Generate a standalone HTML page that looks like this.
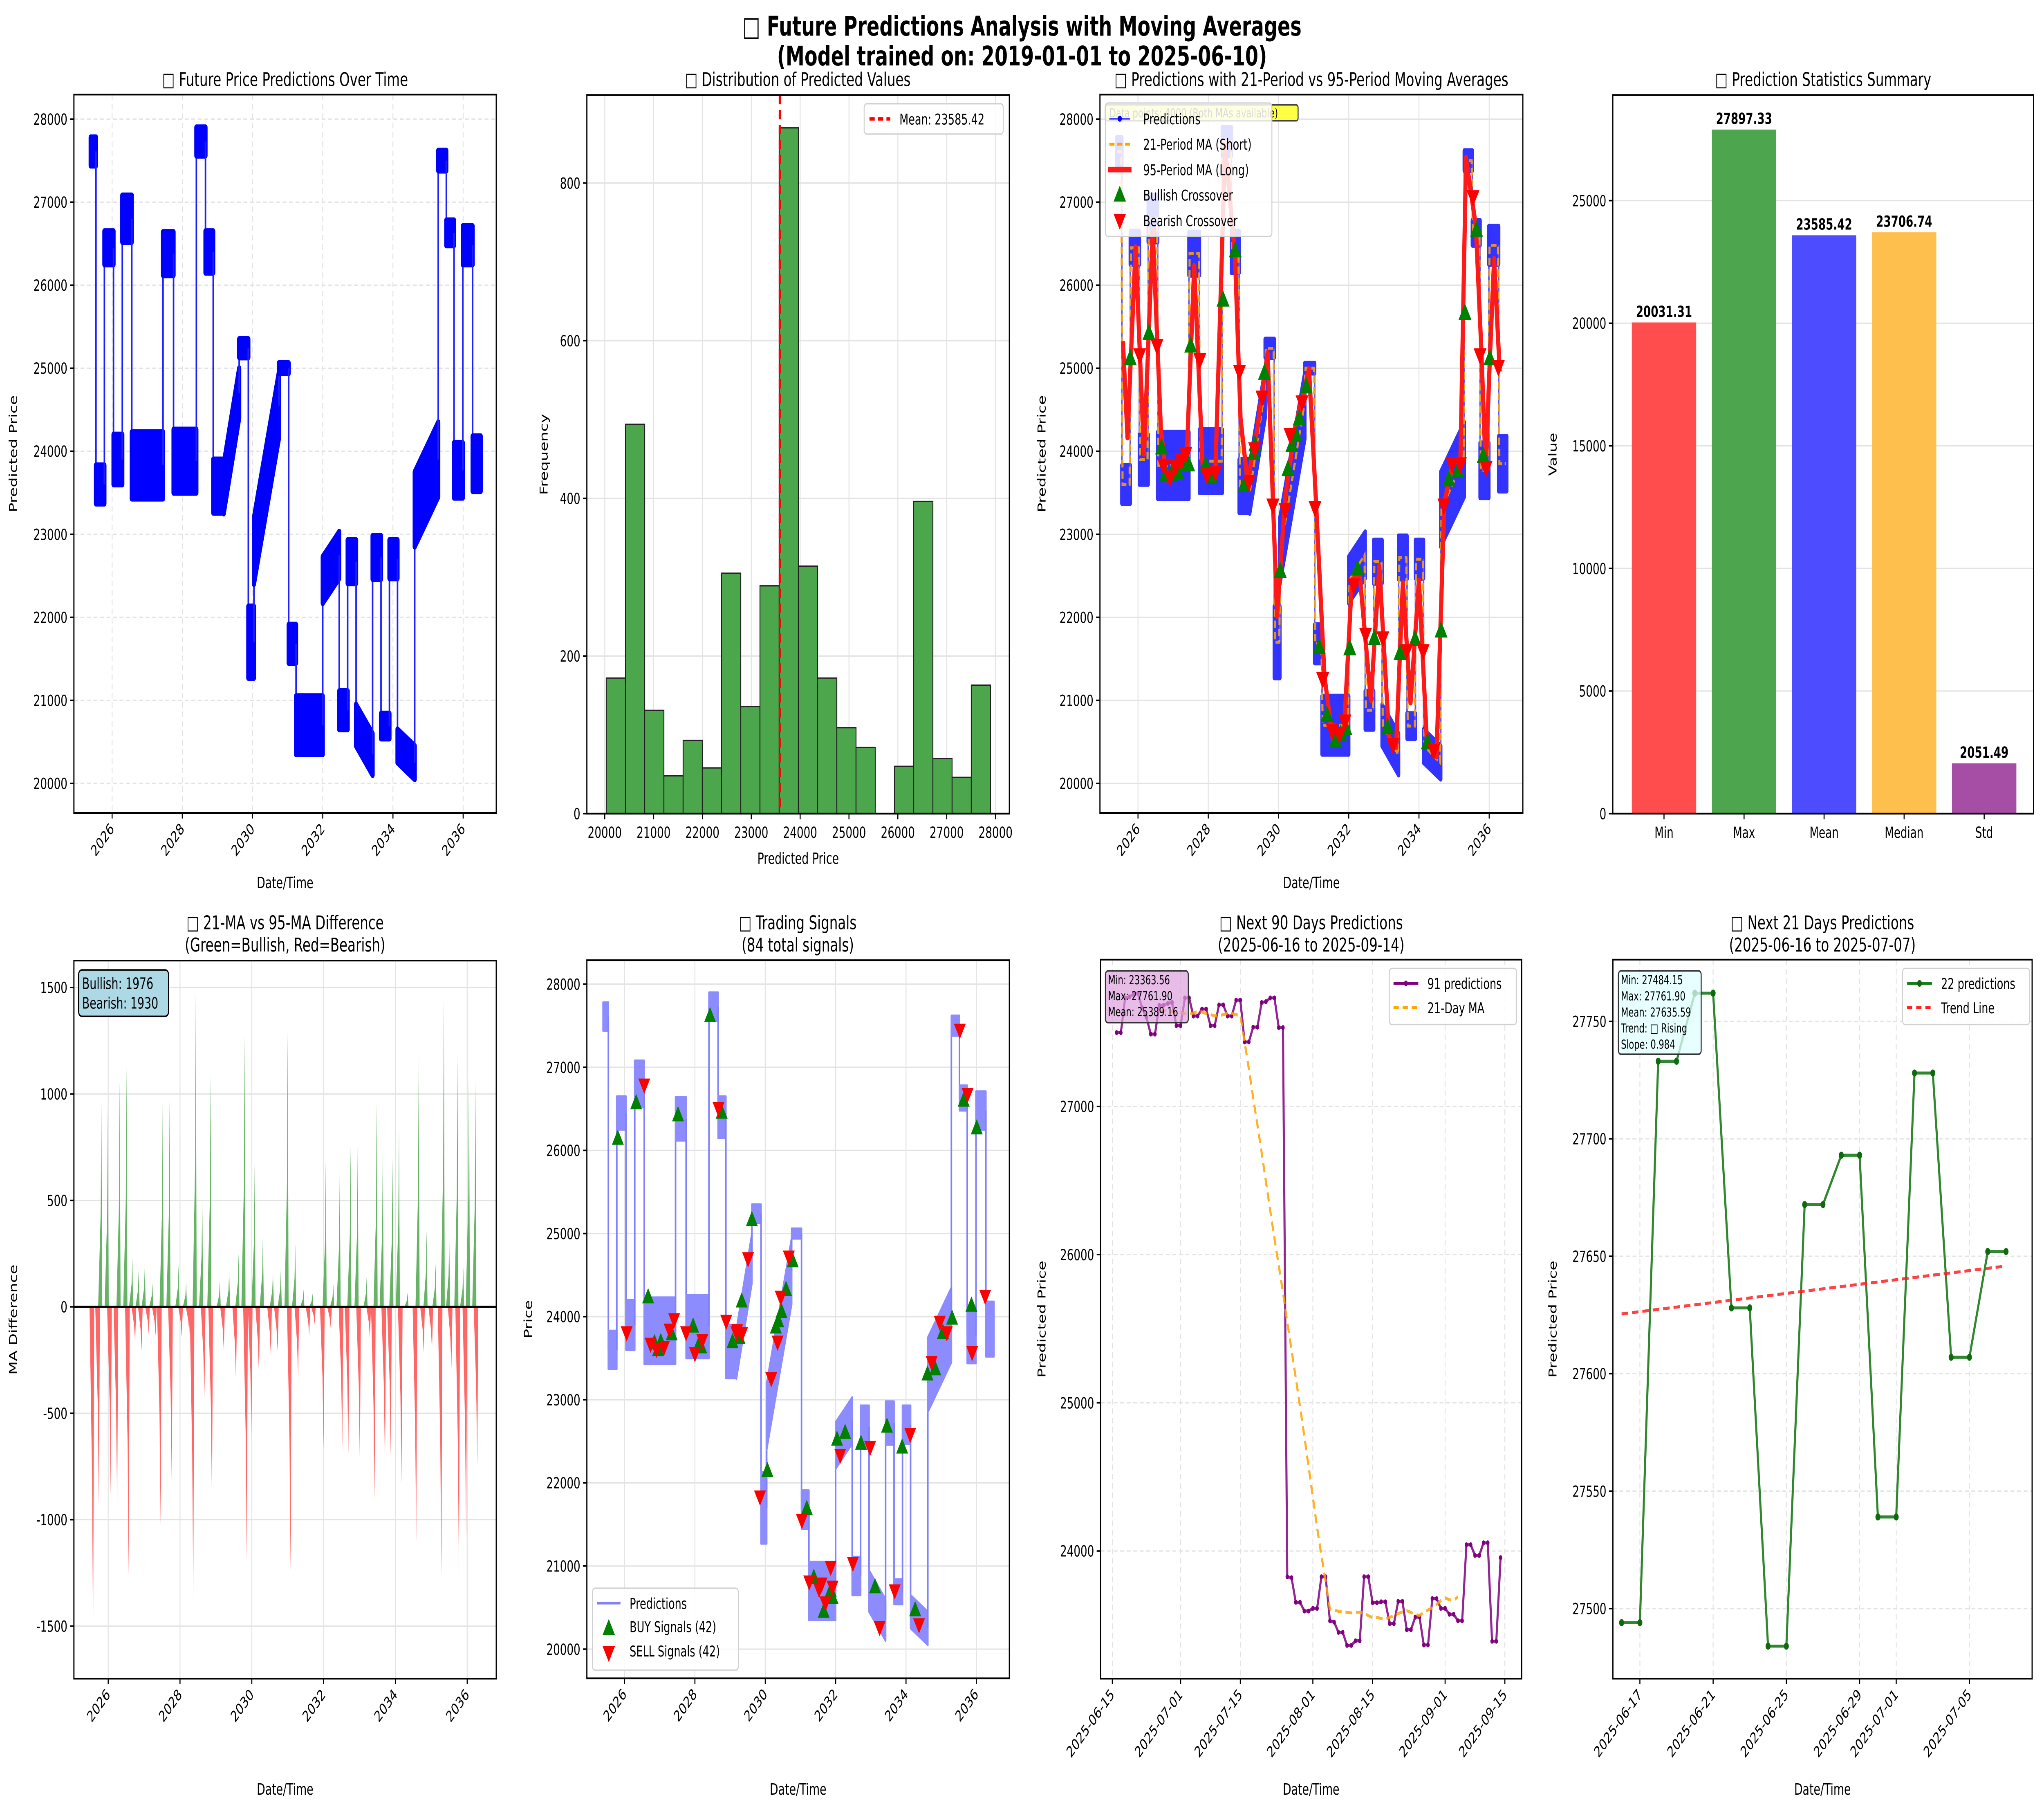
<!DOCTYPE html>
<html><head><meta charset="utf-8"><title>Future Predictions Analysis</title>
<style>
html,body{margin:0;padding:0;background:#fff;overflow:hidden;width:100vw;height:100vh;}
svg{display:block;font-family:"DejaVu Sans","Liberation Sans",sans-serif;width:100vw;height:100vh;}
</style></head>
<body>
<svg id="fig" xmlns="http://www.w3.org/2000/svg" viewBox="0 0 1568 967.6" preserveAspectRatio="none">
<rect x="0" y="0" width="1568" height="967.6" fill="#fff"/>
<text x="784" y="19" text-anchor="middle" font-size="14.5" font-weight="bold">□ Future Predictions Analysis with Moving Averages</text>
<text x="784" y="35" text-anchor="middle" font-size="14.5" font-weight="bold">(Model trained on: 2019-01-01 to 2025-06-10)</text>
</svg>
<script>
// ===== DATA =====
const regStart=[2025.39,2025.54,2025.78,2026.04,2026.29,2026.56,2027.45,2027.75,2028.4,2028.66,2028.88,2029.18,2029.62,2029.88,2030.04,2030.75,2031.03,2031.24,2032.0,2032.47,2032.71,2032.95,2033.42,2033.66,2033.9,2034.13,2034.62,2035.29,2035.52,2035.74,2035.99,2036.27];
const regEnd=[2025.54,2025.78,2026.04,2026.29,2026.56,2027.45,2027.75,2028.4,2028.66,2028.88,2029.18,2029.62,2029.88,2030.04,2030.75,2031.03,2031.24,2032.0,2032.47,2032.71,2032.95,2033.42,2033.66,2033.9,2034.13,2034.62,2035.29,2035.52,2035.74,2035.99,2036.27,2036.5];
const regFrom=[27610,23600,26450,23900,26800,23830,26380,23880,27730,26400,23580,23550,25240,21700,22800,25000,21680,20700,22450,20880,22670,20700,22720,20690,22700,20450,23300,27500,26630,23770,26480,23850];
const regTo=[27610,23600,26450,23900,26800,23830,26380,23880,27730,26400,23580,24700,25240,21700,24550,25000,21680,20700,22750,20880,22670,20350,22720,20690,22700,20250,23900,27500,26630,23770,26480,23850];
const regSpread=[170,230,200,300,280,400,260,380,170,250,320,300,110,430,400,60,230,350,280,230,260,250,260,150,230,200,450,120,150,330,230,330];

const histCounts=[172,494,131,48,93,58,305,136,289,870,314,172,109,84,0,60,396,70,46,163];
const histMin=20031.31, histMax=27897.33;
const meanValue=23585.42;

const statNames=['Min','Max','Mean','Median','Std'];
const statValues=[20031.31,27897.33,23585.42,23706.74,2051.49];
const statColors=['#ff4d4d','#4da64d','#4d4dff','#ffbf4d','#a64da6'];

const longMaYears=[2025.57,2025.7,2025.93,2026.17,2026.42,2026.65,2026.81,2027.16,2027.39,2027.6,2027.84,2028.2,2028.48,2028.76,2028.92,2029.12,2029.4,2029.69,2029.96,2030.19,2030.47,2030.87,2031.07,2031.31,2031.55,2031.87,2032.09,2032.31,2032.63,2032.87,2033.15,2033.35,2033.54,2033.76,2034.0,2034.22,2034.5,2034.72,2034.98,2035.18,2035.34,2035.62,2035.78,2035.9,2036.02,2036.14,2036.3];
const longMaValues=[25326,24167,26457,23970,26655,24280,23658,23828,23970,26231,23828,23715,27672,26372,24393,23630,24280,25185,22019,23433,24280,24987,23376,21284,20521,20663,22443,22528,21002,22612,20549,20436,22414,20974,22443,20549,20323,23376,23885,23885,27531,26711,25185,23772,25128,26315,24959];

const bullYears=[2025.78,2026.31,2026.67,2026.78,2026.95,2027.14,2027.31,2027.44,2027.5,2027.92,2028.09,2028.42,2028.77,2029.02,2029.3,2029.33,2029.6,2030.05,2030.27,2030.38,2030.5,2030.59,2030.79,2031.16,2031.38,2031.62,2031.77,2031.92,2032.03,2032.25,2032.73,2033.11,2033.46,2033.89,2034.24,2034.63,2034.85,2035.11,2035.31,2035.64,2035.83,2036.02];
const bullValues=[25117,25422,24043,23715,23726,23738,23828,23840,25270,23828,23698,25824,26417,23591,23981,24083,24942,22556,23783,24071,24196,24393,24778,21641,20821,20521,20595,20663,21624,22584,21748,20674,21567,21737,20493,21838,23659,23760,25665,26666,23941,25117];
const bearYears=[2026.05,2026.54,2026.73,2026.91,2027.07,2027.23,2027.36,2027.76,2027.96,2028.2,2028.89,2029.16,2029.32,2029.53,2029.84,2030.19,2030.33,2030.67,2031.04,2031.26,2031.53,2031.73,2031.89,2032.14,2032.48,2032.97,2033.26,2033.65,2034.12,2034.42,2034.71,2034.94,2035.18,2035.54,2035.74,2035.91,2036.26];
const bearValues=[25157,25270,23828,23687,23817,23885,23970,25100,23715,23743,24959,23630,24026,24648,23348,23291,24196,24591,23319,21256,20634,20595,20747,22387,21793,21748,20465,21595,21595,20391,23348,23845,23845,27062,25157,23800,25015];

const bullCount=1976, bearCount=1930;
const diffPosYears=[2025.81,2025.99,2026.32,2026.51,2026.67,2026.85,2027.02,2027.23,2027.52,2027.71,2027.96,2028.17,2028.44,2028.62,2028.85,2029.11,2029.37,2029.63,2029.8,2030.08,2030.31,2030.59,2030.81,2031.0,2031.21,2031.44,2031.69,2032.06,2032.27,2032.45,2032.75,2032.95,2033.2,2033.48,2033.65,2033.92,2034.1,2034.34,2034.65,2034.87,2035.12,2035.35,2035.5,2035.73,2035.89,2036.05,2036.23];
const diffPosValues=[977,940,1064,1128,233,177,198,111,1014,971,198,116,1472,519,1091,120,170,251,1282,676,347,168,181,1293,294,81,63,683,105,639,752,759,142,966,759,700,846,68,1189,360,203,1457,323,1184,185,1173,1058];
const diffNegYears=[2025.58,2025.74,2026.07,2026.25,2026.57,2026.75,2026.93,2027.13,2027.32,2027.46,2027.77,2028.05,2028.26,2028.37,2028.68,2028.89,2029.22,2029.56,2029.86,2029.99,2030.2,2030.53,2030.72,2031.08,2031.29,2031.6,2031.75,2032.0,2032.2,2032.52,2032.69,2033.01,2033.29,2033.42,2033.71,2033.87,2034.17,2034.58,2034.79,2035.02,2035.28,2035.56,2035.77,2035.97,2036.28];
const diffNegValues=[-1597,-931,-888,-953,-1265,-168,-207,-129,-135,-1023,-833,-142,-124,-1378,-425,-931,-207,-353,-1200,-604,-327,-233,-212,-1241,-332,-135,-81,-670,-103,-665,-691,-746,-146,-909,-763,-702,-833,-1106,-216,-207,-1270,-288,-1285,-1091,-752];

const buyYears=[2025.81,2026.33,2026.67,2026.85,2027.03,2027.34,2027.52,2027.95,2028.13,2028.18,2028.43,2028.76,2029.07,2029.27,2029.33,2029.62,2030.06,2030.3,2030.37,2030.46,2030.59,2030.78,2031.18,2031.38,2031.66,2031.86,2031.91,2032.04,2032.27,2032.72,2033.12,2033.46,2033.89,2034.26,2034.61,2034.83,2035.05,2035.31,2035.64,2035.86,2036.01,2026.95];
const buyValues=[26143,26570,24236,23684,23696,23790,26425,23884,23684,23634,27617,26457,23696,23746,24186,25164,22147,23872,23947,24060,24324,24669,21689,20861,20453,20704,20622,22523,22605,22473,20748,22680,22429,20471,23307,23370,23809,23979,26601,24135,26268,23600];
const sellYears=[2026.06,2026.56,2026.74,2026.91,2027.12,2027.28,2027.41,2027.75,2028.0,2028.21,2028.67,2028.89,2029.18,2029.2,2029.34,2029.51,2029.85,2030.17,2030.35,2030.44,2030.67,2031.04,2031.25,2031.53,2031.6,2031.71,2031.86,2031.91,2032.13,2032.49,2032.98,2033.25,2033.68,2034.12,2034.37,2034.73,2034.96,2035.16,2035.53,2035.75,2035.88,2036.25];
const sellValues=[23809,26789,23671,23609,23634,23841,23966,23809,23558,23715,26507,23947,23809,23834,23797,24700,21833,23257,23696,24236,24719,21551,20811,20723,20786,20559,20986,20748,22335,21036,22429,20264,20704,22586,20296,23452,23935,23809,27448,26676,23571,24249];

const next90Values=[27498,27498,27732,27739,27757,27762,27664,27601,27488,27488,27682,27682,27695,27701,27545,27545,27732,27732,27610,27610,27657,27657,27545,27545,27685,27685,27610,27610,27717,27717,27435,27435,27535,27535,27701,27707,27732,27732,27532,27532,23826,23820,23654,23654,23595,23595,23613,23613,23826,23826,23529,23520,23451,23451,23363,23363,23394,23394,23826,23826,23651,23651,23657,23657,23510,23510,23660,23660,23469,23469,23554,23554,23366,23366,23679,23679,23613,23613,23573,23573,23529,23529,24042,24042,23970,23970,24055,24055,23391,23391,23955];
const next90Ticks=['2025-06-15','2025-07-01','2025-07-15','2025-08-01','2025-08-15','2025-09-01','2025-09-15'];
const next90TickDays=[0,16,30,47,61,78,92];
const next90Stats=['Min: 23363.56','Max: 27761.90','Mean: 25389.16'];

const next21Values=[27494,27494,27733,27733,27762,27762,27628,27628,27484,27484,27672,27672,27693,27693,27539,27539,27728,27728,27607,27607,27652,27652];
const next21Ticks=['2025-06-17','2025-06-21','2025-06-25','2025-06-29','2025-07-01','2025-07-05'];
const next21TickDays=[1,5,9,13,15,19];
const next21Stats=['Min: 27484.15','Max: 27761.90','Mean: 27635.59','Trend: □ Rising','Slope: 0.984'];

const yearTicks=[2026,2028,2030,2032,2034,2036];
const priceTicks=[20000,21000,22000,23000,24000,25000,26000,27000,28000];

// ===== HELPERS =====
const svg=document.getElementById('fig');
const NS=svg.namespaceURI;
function mk(tag,attrs,parent){const e=document.createElementNS(NS,tag);for(const k in attrs)e.setAttribute(k,attrs[k]);(parent||svg).appendChild(e);return e;}
function lin(d0,d1,r0,r1){return v=>r0+(v-d0)*(r1-r0)/(d1-d0);}
function txt(x,y,s,attrs){const t=mk('text',Object.assign({x:x,y:y,'font-size':8.2},attrs||{}));t.textContent=s;return t;}

function frame(b,name){
  const r=mk('rect',{x:b[0],y:b[1],width:b[2]-b[0],height:b[3]-b[1],fill:'none',stroke:'#000','stroke-width':0.9});
  
  
}
function gridX(b,xs,vals,dash,name){
  vals.forEach(v=>{const x=xs(v);const l=mk('line',{x1:x,x2:x,y1:b[1],y2:b[3],stroke:'#e3e3e3','stroke-width':0.7,'stroke-dasharray':dash?'3 2':'none'});
  
  });
}
function gridY(b,ys,vals,dash,name){
  vals.forEach(v=>{const y=ys(v);const l=mk('line',{x1:b[0],x2:b[2],y1:y,y2:y,stroke:'#e3e3e3','stroke-width':0.7,'stroke-dasharray':dash?'3 2':'none'});
  
  });
}
function yTicks(b,ys,vals,labels,name){
  vals.forEach((v,i)=>{const y=ys(v);
    const l=mk('line',{x1:b[0]-3,x2:b[0],y1:y,y2:y,stroke:'#000','stroke-width':0.8});
    
    
    const t=txt(b[0]-5,y+3,labels[i],{'text-anchor':'end'});
    
    });
}
function xTicks(b,xs,vals,labels,rot,name){
  vals.forEach((v,i)=>{const x=xs(v);
    const l=mk('line',{x1:x,x2:x,y1:b[3],y2:b[3]+3,stroke:'#000','stroke-width':0.8});
    
    
    let t;
    if(rot){t=txt(x+2,b[3]+9,labels[i],{'text-anchor':'end',transform:'rotate(-45 '+(x+2)+' '+(b[3]+9)+')'});}
    else{t=txt(x,b[3]+13,labels[i],{'text-anchor':'middle'});}
    
    });
}
function titles(cx,y,lines,name){
  lines.forEach((s,i)=>{const t=txt(cx,y+i*12,s,{'text-anchor':'middle','font-size':10.2});
    
    });
}
function axisLabels(b,xl,xly,yl,ylx,name){
  const t=txt((b[0]+b[2])/2,xly,xl,{'text-anchor':'middle','font-size':8.4});
  
  
  const cy=(b[1]+b[3])/2;
  const u=txt(ylx,cy,yl,{'text-anchor':'middle','font-size':8.4,transform:'rotate(-90 '+ylx+' '+cy+')'});
  
  
}
function triUp(x,y,s){return 'M'+x+' '+(y-s)+' L'+(x+s*0.95)+' '+(y+s*0.7)+' L'+(x-s*0.95)+' '+(y+s*0.7)+' Z';}
function triDown(x,y,s){return 'M'+x+' '+(y+s)+' L'+(x+s*0.95)+' '+(y-s*0.7)+' L'+(x-s*0.95)+' '+(y-s*0.7)+' Z';}
function drawRegimes(xs,ys,fill,stroke,sw,op,name){
  const g=mk('g',{opacity:op});
  
  
  for(let i=0;i<regStart.length;i++){
    if(i>0){const c=mk('line',{x1:xs(regStart[i]),x2:xs(regStart[i]),y1:ys(regTo[i-1]),y2:ys(regFrom[i]),stroke:stroke,'stroke-width':1.2},g);
      
      }
    const p=[[regStart[i],regFrom[i]+regSpread[i]],[regEnd[i],regTo[i]+regSpread[i]],[regEnd[i],regTo[i]-regSpread[i]],[regStart[i],regFrom[i]-regSpread[i]]].map(q=>xs(q[0]).toFixed(2)+','+ys(q[1]).toFixed(2)).join(' ');
    const poly=mk('polygon',{points:p,fill:fill,stroke:fill,'stroke-width':sw,'stroke-linejoin':'round'},g);
    
    
  }
}
function legendBox(x,y,w,h,name){
  const r=mk('rect',{x:x,y:y,width:w,height:h,rx:2,fill:'#fff','fill-opacity':0.85,stroke:'#d0d0d0','stroke-width':0.7});
  
  
}
const yearLabels=yearTicks.map(String);
const priceLabels=priceTicks.map(String);

// ===== PANEL 1 =====
(function(){
  const b=[56.7,50.6,380.7,434.8], X=lin(2026,2036,86.0,355.3), Y=lin(20000,28000,419.0,63.7), n='p1';
  gridX(b,X,yearTicks,true,n); gridY(b,Y,priceTicks,true,n);
  drawRegimes(X,Y,'#0000ff','#2020ff',3.2,1,'predictions-series');
  frame(b,n); yTicks(b,Y,priceTicks,priceLabels,n); xTicks(b,X,yearTicks,yearLabels,true,n);
  titles(218.7,46,['□ Future Price Predictions Over Time'],n);
  axisLabels(b,'Date/Time',475,'Predicted Price',13,n);
})();

// ===== PANEL 2 =====
(function(){
  const b=[450.2,50.8,774.3,435.2], X=lin(20000,28000,463.9,763.7), Y=lin(0,800,435.2,97.9), n='p2';
  const xt=[20000,21000,22000,23000,24000,25000,26000,27000,28000], yt=[0,200,400,600,800];
  gridX(b,X,xt,false,n); gridY(b,Y,yt,false,n);
  const w=(histMax-histMin)/histCounts.length;
  histCounts.forEach((c,i)=>{ if(c<=0) return;
    const x0=X(histMin+i*w), x1=X(histMin+(i+1)*w);
    const r=mk('rect',{x:x0,y:Y(c),width:x1-x0,height:Y(0)-Y(c),fill:'#4ca64c',stroke:'#222','stroke-width':0.7});
    
    });
  const ml=mk('line',{x1:X(meanValue),x2:X(meanValue),y1:b[1],y2:b[3],stroke:'#ff0000','stroke-width':1.8,'stroke-dasharray':'5 3'});
  
  
  frame(b,n); yTicks(b,Y,yt,yt.map(String),n); xTicks(b,X,xt,xt.map(String),false,n);
  legendBox(662.9,55.5,106.7,16.2,'hist-legend');
  const ll=mk('line',{x1:667,x2:683,y1:63.6,y2:63.6,stroke:'#ff0000','stroke-width':1.8,'stroke-dasharray':'4 2.5'});
  
  
  const lt=txt(690,66.6,'Mean: '+meanValue.toFixed(2),{'font-size':8});
  
  
  titles(612,46,['□ Distribution of Predicted Values'],n);
  axisLabels(b,'Predicted Price',462,'Frequency',420,n);
})();

// ===== PANEL 3 =====
(function(){
  const b=[843.8,50.6,1168.2,434.8], X=lin(2026,2036,873.0,1142.4), Y=lin(20000,28000,419.0,63.7), n='p3';
  gridX(b,X,yearTicks,false,n); gridY(b,Y,priceTicks,false,n);
  drawRegimes(X,Y,'#1010ff','#4040ff',2.6,0.85,'predictions-series');
  let d='';
  for(let i=0;i<regStart.length;i++){d+=(i?'L':'M')+X(regStart[i]+0.02).toFixed(2)+' '+Y(regFrom[i]).toFixed(2)+' L'+X(regEnd[i]-0.02).toFixed(2)+' '+Y(regTo[i]).toFixed(2)+' ';}
  const sm=mk('path',{d:d,fill:'none',stroke:'#ffa500','stroke-opacity':0.85,'stroke-width':1.6,'stroke-dasharray':'4 2'});
  
  
  const ld=longMaYears.map((yv,i)=>(i?'L':'M')+X(yv).toFixed(2)+' '+Y(longMaValues[i]).toFixed(2)).join(' ');
  const lm=mk('path',{d:ld,fill:'none',stroke:'#ff1a1a','stroke-width':3.2,'stroke-linejoin':'round'});
  
  
  bullYears.forEach((yv,i)=>{const p=mk('path',{d:triUp(X(yv),Y(bullValues[i]),5.2),fill:'#008000'});
    
    });
  bearYears.forEach((yv,i)=>{const p=mk('path',{d:triDown(X(yv),Y(bearValues[i]),5.2),fill:'#ff0000'});
    
    });
  frame(b,n); yTicks(b,Y,priceTicks,priceLabels,n); xTicks(b,X,yearTicks,yearLabels,true,n);
  const ab=mk('rect',{x:848,y:56.1,width:147.8,height:8.5,rx:1.5,fill:'#ffff44',stroke:'#444','stroke-width':0.8});
  
  
  const at=txt(851,62.8,'Data points: 4000 (Both MAs available)',{'font-size':6.6});
  
  
  legendBox(848,55.1,127.7,71.4,'ma-legend');
  const items=[['Predictions','pred'],['21-Period MA (Short)','short'],['95-Period MA (Long)','long'],['Bullish Crossover','bull'],['Bearish Crossover','bear']];
  items.forEach((it,i)=>{const y=63.5+i*13.6;let s;
    if(it[1]==='pred'){s=mk('line',{x1:851,x2:867,y1:y,y2:y,stroke:'#4040ff','stroke-width':1});mk('circle',{cx:859,cy:y,r:1.6,fill:'#0000ff'});}
    else if(it[1]==='short'){s=mk('line',{x1:851,x2:867,y1:y,y2:y,stroke:'#ffa500','stroke-width':1.6,'stroke-dasharray':'4 2'});}
    else if(it[1]==='long'){s=mk('line',{x1:850,x2:868,y1:y,y2:y,stroke:'#ff1a1a','stroke-width':3});}
    else if(it[1]==='bull'){s=mk('path',{d:triUp(859,y,5),fill:'#008000'});}
    else {s=mk('path',{d:triDown(859,y,5),fill:'#ff0000'});}
    
    
    const t=txt(877,y+3,it[0],{'font-size':8});
    
    });
  titles(1006,46,['□ Predictions with 21-Period vs 95-Period Moving Averages'],n);
  axisLabels(b,'Date/Time',475,'Predicted Price',802,n);
})();

// ===== PANEL 4 =====
(function(){
  const b=[1237.2,50.8,1560,435.2], Y=lin(0,25000,435.2,107.3), n='p4';
  const yt=[0,5000,10000,15000,20000,25000];
  gridY(b,Y,yt,false,n);
  statValues.forEach((v,i)=>{const cx=1276.5+i*61.4;
    const r=mk('rect',{x:cx-24.7,y:Y(v),width:49.4,height:Y(0)-Y(v),fill:statColors[i]});
    
    
    const t=txt(cx,Y(v)-3,v.toFixed(2),{'text-anchor':'middle','font-weight':'bold','font-size':8.2});
    
    
    const tk=mk('line',{x1:cx,x2:cx,y1:b[3],y2:b[3]+3,stroke:'#000','stroke-width':0.8});
    
    
    const l=txt(cx,b[3]+13,statNames[i],{'text-anchor':'middle'});
    
    });
  frame(b,n); yTicks(b,Y,yt,yt.map(String),n);
  titles(1398.6,46,['□ Prediction Statistics Summary'],n);
  axisLabels(b,'',460,'Value',1194,n);
})();

// ===== PANEL 5 =====
(function(){
  const b=[56.7,513.8,380.7,897.9], X=lin(2026,2036,83.0,358.4), Y=lin(-1500,1500,869.8,528.2), n='p5';
  const yt=[-1500,-1000,-500,0,500,1000,1500];
  gridX(b,X,yearTicks,false,n); gridY(b,Y,yt,false,n);
  const y0=Y(0);
  diffPosYears.forEach((yv,i)=>{const v=diffPosValues[i];
    const p=mk('polygon',{points:X(yv-0.09)+','+y0+' '+X(yv-0.02)+','+Y(v*0.45)+' '+X(yv)+','+Y(v)+' '+X(yv+0.025)+','+y0,fill:'#66b366'});
    
    });
  diffNegYears.forEach((yv,i)=>{const v=diffNegValues[i];
    const p=mk('polygon',{points:X(yv-0.1)+','+y0+' '+X(yv-0.03)+','+Y(v*0.5)+' '+X(yv)+','+Y(v)+' '+X(yv+0.03)+','+y0,fill:'#ff6666'});
    
    });
  const zl=mk('line',{x1:b[0],x2:b[2],y1:y0,y2:y0,stroke:'#000','stroke-width':1.1});
  
  
  frame(b,n); yTicks(b,Y,yt,yt.map(String),n); xTicks(b,X,yearTicks,yearLabels,true,n);
  const bx=mk('rect',{x:60.3,y:518.8,width:69,height:24.8,rx:2.5,fill:'#add8e6',stroke:'#000','stroke-width':0.8});
  
  
  const t1=txt(63,529,'Bullish: '+bullCount,{'font-size':8.4});
  
  
  const t2=txt(63,539.5,'Bearish: '+bearCount,{'font-size':8.4});
  
  
  titles(218.7,497,['□ 21-MA vs 95-MA Difference','(Green=Bullish, Red=Bearish)'],n);
  axisLabels(b,'Date/Time',960,'MA Difference',13,n);
})();

// ===== PANEL 6 =====
(function(){
  const b=[450.2,513.6,774.3,897.7], X=lin(2026,2036,479.1,749.0), Y=lin(20000,28000,882.1,526.4), n='p6';
  gridX(b,X,yearTicks,false,n); gridY(b,Y,priceTicks,false,n);
  drawRegimes(X,Y,'#8c8cff','#8080ff',1.2,1,'price-series');
  buyYears.forEach((yv,i)=>{const p=mk('path',{d:triUp(X(yv),Y(buyValues[i]),4.8),fill:'#008000'});
    
    });
  sellYears.forEach((yv,i)=>{const p=mk('path',{d:triDown(X(yv),Y(sellValues[i]),4.8),fill:'#ff0000'});
    
    });
  frame(b,n); yTicks(b,Y,priceTicks,priceLabels,n); xTicks(b,X,yearTicks,yearLabels,true,n);
  legendBox(454.5,849.5,111.9,43.8,'signals-legend');
  const s1=mk('line',{x1:458,x2:476,y1:857.5,y2:857.5,stroke:'#8080ff','stroke-width':1.4});
  
  
  const s2=mk('path',{d:triUp(467,871,5),fill:'#008000'});
  
  
  const s3=mk('path',{d:triDown(467,884,5),fill:'#ff0000'});
  
  
  const l1=txt(483,860.5,'Predictions',{'font-size':8});
  
  
  const l2=txt(483,873,'BUY Signals ('+buyYears.length+')',{'font-size':8});
  
  
  const l3=txt(483,886,'SELL Signals ('+sellYears.length+')',{'font-size':8});
  
  
  titles(612,497,['□ Trading Signals','('+(buyYears.length+sellYears.length)+' total signals)'],n);
  axisLabels(b,'Date/Time',960,'Price',408,n);
})();

// ===== PANEL 7 =====
(function(){
  const b=[844.3,513.3,1167.3,897.9], X=lin(0,92,853.3,1154.4), Y=lin(24000,27000,829.6,591.8), n='p7';
  const yt=[24000,25000,26000,27000];
  gridX(b,X,next90TickDays,true,n); gridY(b,Y,yt,true,n);
  const ma=[];
  for(let i=10;i<next90Values.length-10;i++){let s=0;for(let k=i-10;k<=i+10;k++)s+=next90Values[k];ma.push([i,s/21]);}
  const md=ma.map((q,j)=>(j?'L':'M')+X(q[0]+1).toFixed(2)+' '+Y(q[1]).toFixed(2)).join(' ');
  const d=next90Values.map((v,i)=>(i?'L':'M')+X(i+1).toFixed(2)+' '+Y(v).toFixed(2)).join(' ');
  const line=mk('path',{d:d,fill:'none',stroke:'#800080','stroke-opacity':0.85,'stroke-width':1.6});
  
  
  next90Values.forEach((v,i)=>{const c=mk('circle',{cx:X(i+1),cy:Y(v),r:1.3,fill:'#800080'});
    
    });
  const m=mk('path',{d:md,fill:'none',stroke:'#ffa500','stroke-opacity':0.85,'stroke-width':1.6,'stroke-dasharray':'5 3'});
  
  
  frame(b,n); yTicks(b,Y,yt,yt.map(String),n); xTicks(b,X,next90TickDays,next90Ticks,true,n);
  const bx=mk('rect',{x:848,y:519.3,width:63.6,height:27.7,rx:2,fill:'#dda0dd','fill-opacity':0.7,stroke:'#333','stroke-width':0.8});
  
  
  next90Stats.forEach((s,i)=>{const t=txt(850,526.5+i*8.5,s,{'font-size':6.6});
    
    });
  legendBox(1065.8,518,97.6,30,'next-90-legend');
  const s1=mk('line',{x1:1069,x2:1088,y1:526,y2:526,stroke:'#800080','stroke-width':1.6});
  
  
  mk('circle',{cx:1078.5,cy:526,r:1.5,fill:'#800080'});
  const s2=mk('line',{x1:1069,x2:1088,y1:539,y2:539,stroke:'#ffa500','stroke-width':1.6,'stroke-dasharray':'4 3'});
  
  
  const l1=txt(1095,529,next90Values.length+' predictions',{'font-size':8});
  
  
  const l2=txt(1095,542,'21-Day MA',{'font-size':8});
  
  
  titles(1005.8,497,['□ Next 90 Days Predictions','(2025-06-16 to 2025-09-14)'],n);
  axisLabels(b,'Date/Time',960,'Predicted Price',802,n);
})();

// ===== PANEL 8 =====
(function(){
  const b=[1237.3,513.3,1558.9,897.9], X=lin(1,19,1258.0,1510.8), Y=lin(27500,27750,860.4,546.3), n='p8';
  const yt=[27500,27550,27600,27650,27700,27750];
  gridX(b,X,next21TickDays,true,n); gridY(b,Y,yt,true,n);
  const N=next21Values.length;let sx=0,sy=0,sxx=0,sxy=0;
  next21Values.forEach((v,i)=>{sx+=i;sy+=v;sxx+=i*i;sxy+=i*v;});
  const slope=(N*sxy-sx*sy)/(N*sxx-sx*sx), icp=(sy-slope*sx)/N;
  const d=next21Values.map((v,i)=>(i?'L':'M')+X(i).toFixed(2)+' '+Y(v).toFixed(2)).join(' ');
  const line=mk('path',{d:d,fill:'none',stroke:'#1a7a1a','stroke-opacity':0.9,'stroke-width':1.6});
  
  
  next21Values.forEach((v,i)=>{const c=mk('circle',{cx:X(i),cy:Y(v),r:1.9,fill:'#0f6a0f'});
    
    });
  const tl=mk('line',{x1:X(0),y1:Y(icp),x2:X(N-1),y2:Y(icp+slope*(N-1)),stroke:'#ff2020','stroke-opacity':0.85,'stroke-width':1.6,'stroke-dasharray':'5 3'});
  
  
  frame(b,n); yTicks(b,Y,yt,yt.map(String),n); xTicks(b,X,next21TickDays,next21Ticks,true,n);
  const bx=mk('rect',{x:1241.5,y:519.3,width:63.5,height:44.6,rx:2,fill:'#e0ffff','fill-opacity':0.75,stroke:'#333','stroke-width':0.8});
  
  
  next21Stats.forEach((s,i)=>{const t=txt(1243.5,526.5+i*8.6,s,{'font-size':6.6});
    
    });
  legendBox(1459.5,518,97.5,30,'next-21-legend');
  const s1=mk('line',{x1:1463,x2:1482,y1:526,y2:526,stroke:'#1a7a1a','stroke-width':1.6});
  
  
  mk('circle',{cx:1472.5,cy:526,r:1.8,fill:'#0f6a0f'});
  const s2=mk('line',{x1:1463,x2:1482,y1:539,y2:539,stroke:'#ff2020','stroke-width':1.6,'stroke-dasharray':'4 3'});
  
  
  const l1=txt(1489,529,N+' predictions',{'font-size':8});
  
  
  const l2=txt(1489,542,'Trend Line',{'font-size':8});
  
  
  titles(1398,497,['□ Next 21 Days Predictions','(2025-06-16 to 2025-07-07)'],n);
  axisLabels(b,'Date/Time',960,'Predicted Price',1194,n);
})();
</script>
</body></html>
